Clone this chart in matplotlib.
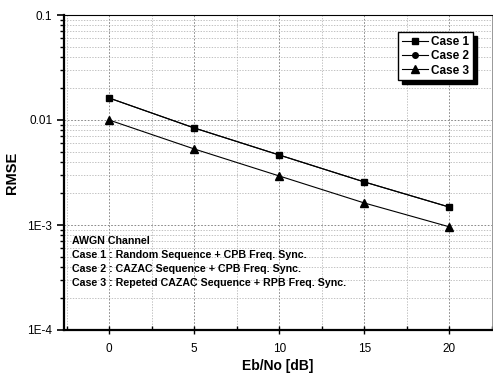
import numpy as np
import matplotlib
matplotlib.use("Agg")
import matplotlib.pyplot as plt
from matplotlib.ticker import LogLocator, FixedLocator, FuncFormatter, NullFormatter

plt.rcParams['font.family'] = ['Liberation Sans', 'DejaVu Sans']

ebno = [0, 5, 10, 15, 20]
case1 = [0.0162, 0.0084, 0.00464, 0.00257, 0.00148]
case2 = [0.0162, 0.0084, 0.00464, 0.00257, 0.00148]
case3 = [0.0100, 0.0053, 0.00293, 0.00162, 0.00096]
labels = ["Case 1", "Case 2", "Case 3"]

note = ("AWGN Channel\n"
        "Case 1 : Random Sequence + CPB Freq. Sync.\n"
        "Case 2 : CAZAC Sequence + CPB Freq. Sync.\n"
        "Case 3 : Repeted CAZAC Sequence + RPB Freq. Sync.")

fig = plt.figure(figsize=(4.93, 3.80), dpi=100)
ax = fig.add_axes([64 / 493, 50 / 380, 428 / 493, 315 / 380])

ax.plot(ebno, case1, color="black", lw=0.8, marker="s", ms=5, label=labels[0])
ax.plot(ebno, case2, color="black", lw=0.8, marker="o", ms=4, label=labels[1])
ax.plot(ebno, case3, color="black", lw=0.8, marker="^", ms=5.5, label=labels[2])

ax.set_yscale("log")
ax.set_ylim(1e-4, 0.1)
ax.set_xlim(-2.65, 22.5)

ax.xaxis.set_major_locator(FixedLocator(ebno))
ax.xaxis.set_minor_locator(FixedLocator([-2.5, 2.5, 7.5, 12.5, 17.5, 22.5]))
ax.yaxis.set_major_locator(LogLocator(base=10))
ax.yaxis.set_minor_locator(LogLocator(base=10, subs=np.arange(2, 10)))
ax.yaxis.set_minor_formatter(NullFormatter())


def ylab(v, pos):
    return {0.1: "0.1", 0.01: "0.01", 1e-3: "1E-3", 1e-4: "1E-4"}.get(round(v, 6), "")


ax.yaxis.set_major_formatter(FuncFormatter(ylab))

ax.grid(True, which="major", color="#777777", ls=(0, (2, 2)), lw=0.6)
ax.grid(True, which="minor", color="#aaaaaa", ls=(0, (2, 2)), lw=0.5)

ax.tick_params(axis="y", which="major", direction="out", length=5, width=1.2, labelsize=8.5)
ax.tick_params(axis="y", which="minor", direction="out", length=3, width=1.0)
ax.tick_params(axis="x", which="major", direction="inout", length=6, width=1.0, labelsize=8.5, pad=6)
ax.tick_params(axis="x", which="minor", direction="in", length=3, width=1.0)

ax.spines["left"].set_linewidth(1.6)
ax.spines["bottom"].set_linewidth(1.6)
ax.spines["top"].set_linewidth(0.8)
ax.spines["right"].set_linewidth(0.6)
ax.spines["right"].set_color("#888888")

ax.set_xlabel("Eb/No [dB]", fontsize=10, fontweight="bold", labelpad=3)
ax.set_ylabel("RMSE", fontsize=10.5, fontweight="bold", labelpad=6)

leg = ax.legend(loc="upper right", bbox_to_anchor=(0.955, 0.945), fontsize=8.5,
                frameon=True, fancybox=False,
                shadow={"color": "black", "alpha": 1.0, "ox": 3, "oy": -3},
                handlelength=2.2, handletextpad=0.3, borderpad=0.3,
                labelspacing=0.2, borderaxespad=0)
leg.get_frame().set_edgecolor("black")
leg.get_frame().set_linewidth(1.0)
for t in leg.get_texts():
    t.set_fontweight("bold")

ax.text(0.018, 0.30, note, transform=ax.transAxes, fontsize=7.7, fontweight="bold",
        va="top", ha="left", linespacing=1.5)

fig.savefig("out.png", dpi=100, facecolor="white")
